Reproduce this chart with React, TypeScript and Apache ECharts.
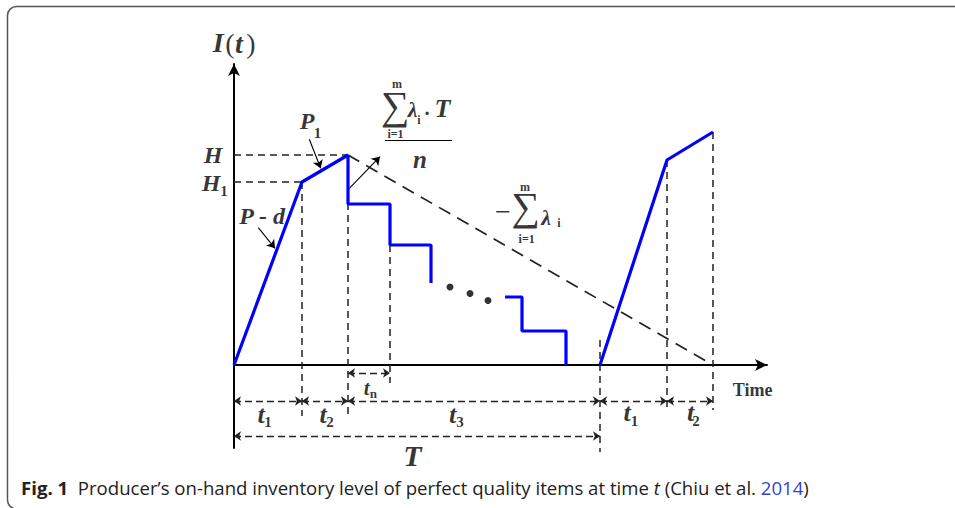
import React, { useEffect, useRef } from "react";
import * as echarts from "echarts";

// ---- data (x = time, y = inventory level, schematic units) ----
const cycle1Rise = [[0, 0], [6.8, 18.3], [11.4, 21.0]];
const cycle1Steps = [[11.4, 21.0], [11.4, 16.1], [15.6, 16.1], [15.6, 12.0], [19.7, 12.0], [19.7, 8.2]];
const cycle1LastSteps = [[27.1, 6.8], [28.8, 6.8], [28.8, 3.4], [33.2, 3.4], [33.2, 0]];
const cycle2Rise = [[36.6, 0], [43.3, 20.5], [47.9, 23.3]];
const demandLine = [[11.4, 21.0], [47.9, 0]];
const ellipsisDots = [[21.6, 7.8], [23.6, 7.15], [25.4, 6.45]];
const levelGuides = [
  [[0, 21.0], [11.4, 21.0]],
  [[0, 18.3], [6.8, 18.3]],
];
const timeGuides = [
  [[6.8, 18.3], [6.8, -5.1]],
  [[11.4, 21.0], [11.4, -5.1]],
  [[15.6, 12.0], [15.6, -1.8]],
  [[36.6, 2.5], [36.6, -8.7]],
  [[43.3, 20.5], [43.3, -4.5]],
  [[47.9, 23.3], [47.9, -4.5]],
];
const spanArrows = [
  [[0, -3.6], [6.8, -3.6]],
  [[6.8, -3.6], [11.4, -3.6]],
  [[11.4, -3.6], [36.6, -3.6]],
  [[36.6, -3.6], [43.3, -3.6]],
  [[43.3, -3.6], [47.9, -3.6]],
  [[11.4, -0.8], [15.6, -0.8]],
  [[0, -7.1], [36.6, -7.1]],
];
const pointerArrows = [
  [[7.53, 22.57], [8.67, 19.67]],
  [[2.43, 13.73], [4.1, 11.67]],
  [[11.53, 17.67], [14.6, 20.83]],
];
const fractionBar = [[[15.1, 22.5], [21.8, 22.5]]];

// annotation texts: [x, y, text, style]
const annotations: [number, number, string, string][] = [
  [-1.57, 32.25, "I", "axisBI"],
  [-0.4, 32.2, "(", "paren"],
  [0.5, 32.2, "t", "axisBI"],
  [1.7, 32.2, ")", "paren"],
  [-2.1, 21.0, "H", "bi24"],
  [-2.3, 18.17, "H", "bi24"],
  [-1.0, 17.4, "1", "sub15"],
  [7.3, 24.45, "P", "bi24"],
  [8.35, 23.25, "1", "sub15"],
  [2.8, 14.95, "P - d", "bi24"],
  [16.3, 28.15, "m", "lim"],
  [16.1, 25.95, "∑", "sigma"],
  [17.85, 25.6, "λ", "bi22"],
  [18.5, 24.5, "i", "lim"],
  [19.3, 25.17, "·", "b20"],
  [20.85, 25.67, "T", "bi26"],
  [16.15, 23.1, "i=1", "lim"],
  [18.6, 20.6, "n", "bi25"],
  [26.9, 15.33, "−", "r28"],
  [29.1, 17.85, "m", "lim"],
  [29.15, 15.9, "∑", "sigma"],
  [31.2, 14.8, "λ", "bi22"],
  [32.5, 14.25, "i", "lim"],
  [29.27, 12.6, "i=1", "lim"],
  [2.7, -4.9, "t", "bi26"],
  [3.4, -5.7, "1", "sub15"],
  [8.9, -4.9, "t", "bi26"],
  [9.6, -5.7, "2", "sub15"],
  [21.85, -4.9, "t", "bi26"],
  [22.6, -5.7, "3", "sub15"],
  [39.3, -4.75, "t", "bi26"],
  [40.05, -5.6, "1", "sub15"],
  [45.65, -4.75, "t", "bi26"],
  [46.2, -5.6, "2", "sub15"],
  [13.27, -2.25, "t", "bi21"],
  [13.93, -2.83, "n", "sub13"],
  [17.85, -9.0, "T", "bi30"],
  [51.87, -2.5, "Time", "b18"],
];

const SERIF = "'Liberation Serif', 'Times New Roman', serif";
const bi = (s: number) => ({ fontFamily: SERIF, fontWeight: "bold", fontStyle: "italic", fontSize: s });
const b = (s: number) => ({ fontFamily: SERIF, fontWeight: "bold", fontStyle: "normal", fontSize: s });
const r = (s: number) => ({ fontFamily: SERIF, fontWeight: "normal", fontStyle: "normal", fontSize: s });
const textStyles: Record<string, any> = {
  axisBI: bi(28),
  paren: r(28),
  bi21: bi(21),
  bi22: bi(22),
  bi24: bi(24),
  bi25: bi(25),
  bi26: bi(26),
  bi30: bi(30),
  sub15: b(15),
  sub13: b(13),
  lim: { ...b(12), lineHeight: 12 },
  sigma: { ...r(40), lineHeight: 30 },
  b20: b(20),
  r28: r(28),
  b18: b(18),
};

export default function App() {
  const ref = useRef<HTMLDivElement>(null);
  useEffect(() => {
    if (!ref.current) return;
    const chart = echarts.init(ref.current, undefined, { renderer: "svg" });
    const dashGray = "#222";
    const blueLine = (data: number[][]) => ({
      type: "line",
      data,
      symbol: "none",
      showSymbol: false,
      clip: false,
      silent: true,
      z: 6,
      lineStyle: { color: "#0000ff", width: 3.2 },
    });
    const hiddenAxis = {
      type: "value",
      axisTick: { show: false },
      axisLabel: { show: false },
      splitLine: { show: false },
    };
    const captionFont = "'Open Sans', sans-serif";
    chart.setOption({
      animation: false,
      grid: { left: 234, top: 64, width: 533, height: 384 },
      xAxis: {
        ...hiddenAxis,
        min: 0,
        max: 53.3,
        axisLine: {
          show: true,
          onZero: true,
          symbol: ["none", "arrow"],
          symbolSize: [9, 12],
          lineStyle: { color: "#000", width: 2 },
        },
      },
      yAxis: {
        ...hiddenAxis,
        min: -8.3,
        max: 30.1,
        axisLine: {
          show: true,
          onZero: true,
          symbol: ["none", "arrow"],
          symbolSize: [9, 12],
          lineStyle: { color: "#000", width: 2 },
        },
      },
      graphic: [
        {
          type: "rect",
          silent: true,
          shape: { x: 7.5, y: 6.5, width: 1000, height: 502.5, r: 9 },
          style: { fill: "none", stroke: "#555", lineWidth: 1.5 },
        },
        {
          type: "text",
          silent: true,
          x: 21,
          y: 487,
          style: {
            text: "{b|Fig. 1}  Producer’s on-hand inventory level of perfect quality items at time {i|t} (Chiu et al. {a|2014})",
            fontFamily: captionFont,
            fontSize: 18.6,
            fill: "#222",
            verticalAlign: "middle",
            rich: {
              b: { fontFamily: captionFont, fontSize: 18.6, fontWeight: "bold", fill: "#222" },
              i: { fontFamily: captionFont, fontSize: 18.6, fontStyle: "italic", fill: "#222" },
              a: { fontFamily: captionFont, fontSize: 18.6, fill: "#3344cc" },
            },
          },
        },
      ],
      series: [
        {
          type: "lines",
          coordinateSystem: "cartesian2d",
          silent: true,
          clip: false,
          z: 2,
          symbol: ["none", "none"],
          lineStyle: { color: dashGray, width: 1.5, type: [7, 5], opacity: 1 },
          data: [...levelGuides, ...timeGuides].map((c) => ({ coords: c })),
        },
        {
          type: "lines",
          coordinateSystem: "cartesian2d",
          silent: true,
          clip: false,
          z: 3,
          symbol: ["arrow", "arrow"],
          symbolSize: 7,
          lineStyle: { color: "#222", width: 1.4, type: [7, 4], opacity: 1 },
          data: spanArrows.map((c) => ({ coords: c })),
        },
        {
          type: "lines",
          coordinateSystem: "cartesian2d",
          silent: true,
          clip: false,
          z: 3,
          symbol: ["none", "arrow"],
          symbolSize: 8,
          lineStyle: { color: "#000", width: 1.1, opacity: 1 },
          data: pointerArrows.map((c) => ({ coords: c })),
        },
        {
          type: "lines",
          coordinateSystem: "cartesian2d",
          silent: true,
          clip: false,
          z: 3,
          symbol: ["none", "none"],
          lineStyle: { color: "#000", width: 1.2, opacity: 1 },
          data: fractionBar.map((c) => ({ coords: c })),
        },
        {
          type: "line",
          data: demandLine,
          symbol: "none",
          clip: false,
          silent: true,
          z: 3,
          lineStyle: { color: "#222", width: 1.7, type: [13, 8] },
        },
        blueLine(cycle1Rise),
        blueLine(cycle1Steps),
        blueLine(cycle1LastSteps),
        blueLine(cycle2Rise),
        {
          type: "scatter",
          data: ellipsisDots,
          symbolSize: 7,
          clip: false,
          silent: true,
          itemStyle: { color: "#000" },
        },
        {
          type: "scatter",
          symbolSize: 0,
          clip: false,
          silent: true,
          z: 10,
          data: annotations.map(([x, y, text, style]) => ({
            value: [x, y],
            label: {
              show: true,
              position: "inside",
              align: "center",
              verticalAlign: "middle",
              formatter: () => text,
              color: "#000",
              ...textStyles[style],
            },
          })),
        },
      ],
    });
    return () => chart.dispose();
  }, []);
  return (
    <div
      ref={ref}
      style={{ position: "absolute", left: 0, top: 0, width: 955, height: 508, background: "#fff" }}
    />
  );
}
